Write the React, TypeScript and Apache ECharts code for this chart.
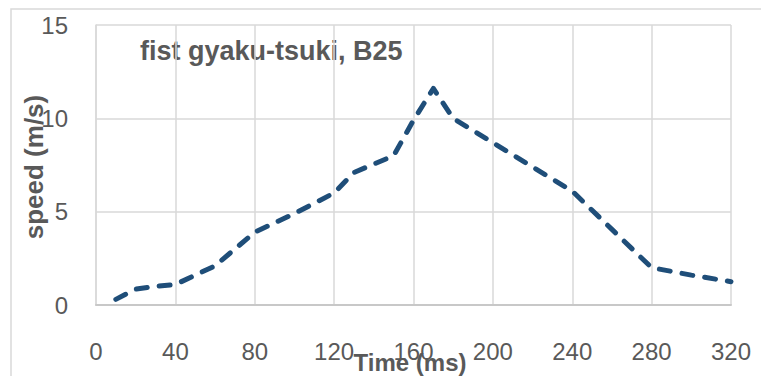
import React, { useEffect, useRef } from "react";
import * as echarts from "echarts";

const timeMs = [10, 20, 30, 40, 60, 80, 100, 120, 130, 150, 160, 170, 180, 200, 220, 240, 260, 280, 300, 320];
const speed = [0.3, 0.85, 1.0, 1.1, 2.1, 3.9, 4.9, 6.0, 7.1, 8.0, 9.9, 11.6, 10.0, 8.7, 7.4, 6.1, 4.05, 2.0, 1.6, 1.25];
const xTicks = { min: 0, max: 320, interval: 40 };
const yTicks = { min: 0, max: 15, interval: 5 };
const chartTitle = "fist gyaku-tsuki, B25";
const xName = "Time (ms)";
const yName = "speed (m/s)";

const FONT = "'Liberation Sans', Arial, sans-serif";
const GRAY = "#595959";

export default function App() {
  const ref = useRef<HTMLDivElement>(null);
  useEffect(() => {
    if (!ref.current) return;
    const chart = echarts.init(ref.current, null, { renderer: "svg" });
    chart.setOption({
      animation: false,
      backgroundColor: "#ffffff",
      grid: { left: 96, right: 30, top: 25, bottom: 71 },
      xAxis: {
        type: "value",
        min: xTicks.min,
        max: xTicks.max,
        interval: xTicks.interval,
        axisLine: { show: true, lineStyle: { color: "#c8c8c8", width: 2 } },
        axisTick: { show: false },
        axisLabel: { color: GRAY, fontSize: 24, fontFamily: FONT, margin: 34 },
        splitLine: { show: true, lineStyle: { color: "#d9d9d9", width: 1.5 } },
      },
      yAxis: {
        type: "value",
        min: yTicks.min,
        max: yTicks.max,
        interval: yTicks.interval,
        axisLine: { show: true, lineStyle: { color: "#d9d9d9", width: 1.5 } },
        axisTick: { show: false },
        axisLabel: { color: GRAY, fontSize: 24, fontFamily: FONT, margin: 28 },
        splitLine: { show: true, lineStyle: { color: "#d9d9d9", width: 1.5 } },
      },
      graphic: [
        {
          type: "rect",
          silent: true,
          shape: { x: 11, y: 9, width: 800, height: 400 },
          style: { fill: "none", stroke: "#d9d9d9", lineWidth: 1.5 },
          z: -1,
        },
        {
          type: "text",
          x: 140,
          y: 51,
          style: {
            text: chartTitle,
            fill: GRAY,
            font: `bold 27px ${FONT}`,
            verticalAlign: "middle",
            align: "left",
          },
        },
        {
          type: "text",
          x: 410,
          y: 362,
          style: {
            text: xName,
            fill: GRAY,
            font: `bold 24px ${FONT}`,
            verticalAlign: "middle",
            align: "center",
          },
        },
        {
          type: "text",
          x: 34,
          y: 167,
          rotation: Math.PI / 2,
          style: {
            text: yName,
            fill: GRAY,
            font: `bold 26px ${FONT}`,
            verticalAlign: "middle",
            align: "center",
          },
        },
      ],
      series: [
        {
          type: "line",
          data: timeMs.map((t, i) => [t, speed[i]]),
          showSymbol: false,
          symbol: "none",
          lineStyle: {
            color: "#1f4e79",
            width: 5,
            type: [11, 12],
            cap: "round",
            join: "round",
          },
        },
      ],
    });
    return () => chart.dispose();
  }, []);
  return (
    <div
      ref={ref}
      style={{ position: "fixed", left: 0, top: 0, width: 761, height: 376 }}
    />
  );
}
